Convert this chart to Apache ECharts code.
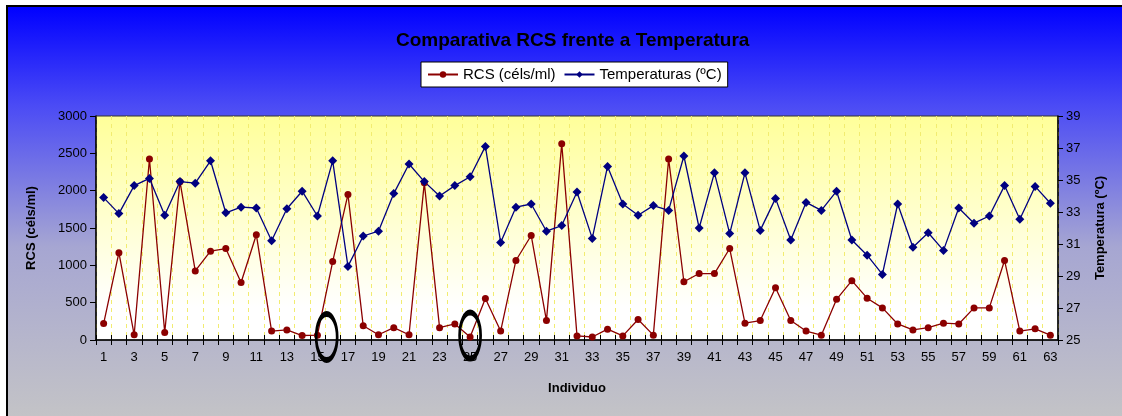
<!DOCTYPE html>
<html>
<head>
<meta charset="utf-8">
<style>
html,body{margin:0;padding:0;background:#fff;overflow:hidden;}
#c{width:1122px;height:416px;}
</style>
<script src="https://cdn.jsdelivr.net/npm/echarts@6/dist/echarts.min.js"></script>
</head>
<body>
<div id="c"></div>
<script>
var categories = ['1','2','3','4','5','6','7','8','9','10','11','12','13','14','15','16','17','18','19','20','21','22','23','24','25','26','27','28','29','30','31','32','33','34','35','36','37','38','39','40','41','42','43','44','45','46','47','48','49','50','51','52','53','54','55','56','57','58','59','60','61','62','63'];
var rcsValues = [220,1170,70,2425,100,2120,925,1190,1225,770,1410,120,135,60,65,1050,1950,190,70,165,70,2105,165,215,40,555,120,1065,1400,260,2630,55,40,145,55,275,65,2425,780,890,890,1225,225,260,700,260,120,65,545,795,560,430,215,135,165,225,215,430,430,1065,120,150,65];
var tempValues = [33.9,32.9,34.65,35.1,32.8,34.9,34.8,36.2,32.95,33.3,33.25,31.2,33.2,34.3,32.75,36.2,29.6,31.5,31.8,34.15,36.0,34.9,34.0,34.65,35.2,37.1,31.1,33.3,33.5,31.8,32.15,34.25,31.35,35.85,33.5,32.8,33.4,33.1,36.5,32.0,35.45,31.65,35.45,31.85,33.85,31.25,33.6,33.1,34.3,31.25,30.3,29.1,33.5,30.8,31.7,30.6,33.25,32.3,32.75,34.65,32.55,34.6,33.55];
var rcsTicks = {min:0, max:3000, interval:500};
var tempTicks = {min:25, max:39, interval:2};
var highlighted = [{cat:'16', value:40, offset:[-6,0]}, {cat:'25', value:60, offset:[0,0]}];

var FONT = '"Liberation Sans", Arial, sans-serif';
var chart = echarts.init(document.getElementById('c'), null, {renderer:'canvas'});
chart.setOption({
  backgroundColor:'#ffffff',
  animation:false,
  textStyle:{fontFamily:FONT},
  graphic:[{
    type:'rect', z:-10, silent:true,
    shape:{x:7, y:6, width:1120, height:415},
    style:{
      fill:new echarts.graphic.LinearGradient(0,0,0,1,[
        {offset:0,color:'#0000ff'},
        {offset:0.24,color:'#4b4bf5'},
        {offset:0.58,color:'#a6a6d2'},
        {offset:1,color:'#c4c4c6'}
      ])
    }
  },{
    type:'polyline', z:-9, silent:true,
    shape:{points:[[7,420],[7,6],[1122,6]]},
    style:{stroke:'#000', lineWidth:2, fill:null}
  }],
  title:{
    text:'Comparativa RCS frente a Temperatura',
    left:391, top:26,
    textStyle:{fontFamily:FONT, fontSize:19, fontWeight:'bold', color:'#000'}
  },
  legend:{
    left:421, top:62,
    backgroundColor:'#ffffff', borderColor:'#000', borderWidth:1,
    padding:[5,6,5,6], itemGap:8, itemWidth:30, itemHeight:8,
    textStyle:{fontFamily:FONT, fontSize:15, color:'#000'},
    data:['RCS (céls/ml)','Temperaturas (ºC)']
  },
  grid:{
    left:96, right:64, top:116, bottom:76,
    show:true,
    backgroundColor:new echarts.graphic.LinearGradient(0,0,0,1,[
      {offset:0,color:'#ffff99'},
      {offset:0.85,color:'#ffffff'},
      {offset:1,color:'#ffffff'}
    ]),
    borderColor:'#333', borderWidth:1
  },
  xAxis:[{
    type:'category', data:categories, boundaryGap:true,
    name:'Individuo', nameLocation:'middle', nameGap:42,
    nameTextStyle:{fontFamily:FONT, fontSize:13, fontWeight:'bold', color:'#000'},
    axisLine:{lineStyle:{color:'#000', width:1.5}},
    axisTick:{show:true, interval:0, length:5, lineStyle:{color:'#000'}},
    axisLabel:{interval:1, color:'#000', fontSize:13, fontFamily:FONT, margin:11},
    splitLine:{show:true, interval:0, lineStyle:{color:'#f2ec70', type:[4,4], width:1}}
  },{
    type:'category', data:categories, boundaryGap:true, position:'bottom',
    axisLine:{show:false},
    axisTick:{show:true, inside:true, interval:0, length:5, lineStyle:{color:'#000'}},
    axisLabel:{show:false}, splitLine:{show:false}
  }],
  yAxis:[{
    type:'value', min:rcsTicks.min, max:rcsTicks.max, interval:rcsTicks.interval,
    name:'RCS (céls/ml)', nameLocation:'middle', nameGap:58, nameRotate:90,
    nameTextStyle:{fontFamily:FONT, fontSize:13, fontWeight:'bold', color:'#000'},
    axisLine:{show:true, lineStyle:{color:'#000', width:1.5}},
    axisTick:{show:true, length:6, lineStyle:{color:'#000'}},
    axisLabel:{color:'#000', fontSize:13, fontFamily:FONT, margin:9, formatter:function(v){return String(v);}},
    splitLine:{show:false}
  },{
    type:'value', min:tempTicks.min, max:tempTicks.max, interval:tempTicks.interval,
    position:'right',
    name:'Temperatura (ºC)', nameLocation:'middle', nameGap:36, nameRotate:90,
    nameTextStyle:{fontFamily:FONT, fontSize:13, fontWeight:'bold', color:'#000'},
    axisLine:{show:true, lineStyle:{color:'#000', width:1.5}},
    axisTick:{show:true, length:5, lineStyle:{color:'#000'}},
    axisLabel:{color:'#000', fontSize:13, fontFamily:FONT, margin:8},
    splitLine:{show:false}
  }],
  series:[{
    name:'RCS (céls/ml)', type:'line', yAxisIndex:0, data:rcsValues,
    symbol:'circle', symbolSize:7, showAllSymbol:true,
    lineStyle:{color:'#8b0000', width:1.3},
    itemStyle:{color:'#8b0000'},
    markPoint:{
      silent:true, symbol:'circle', symbolSize:[21,46],
      itemStyle:{color:'rgba(0,0,0,0)', borderColor:'#000', borderWidth:4},
      label:{show:false},
      data:highlighted.map(function(h){return {coord:[h.cat,h.value], symbolOffset:h.offset};})
    }
  },{
    name:'Temperaturas (ºC)', type:'line', yAxisIndex:1, data:tempValues,
    symbol:'diamond', symbolSize:9, showAllSymbol:true,
    lineStyle:{color:'#000080', width:1.3},
    itemStyle:{color:'#000080'}
  }]
});
</script>
</body>
</html>
